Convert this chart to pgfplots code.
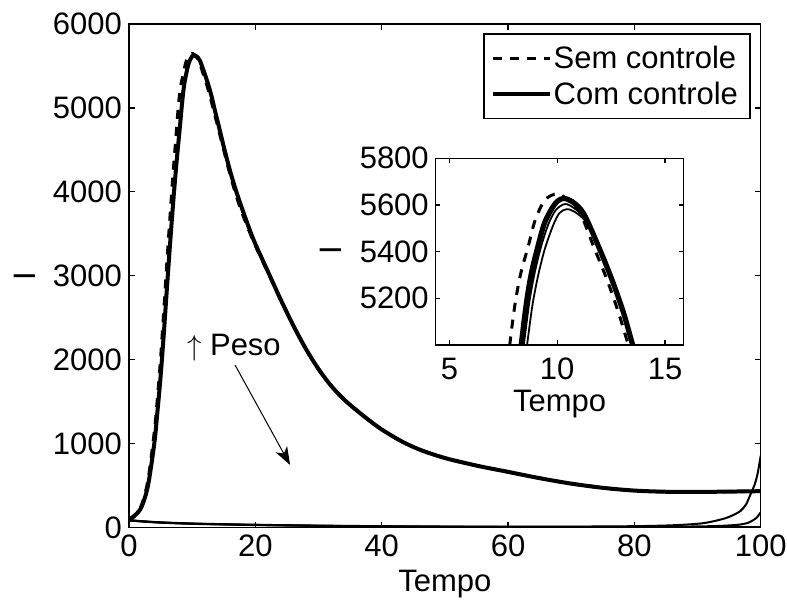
\documentclass[border=0pt]{standalone}
\usepackage{fontspec}
\setmainfont{Liberation Sans}
\usepackage{pgfplots}
\usepackage{pgfplotstable}
\pgfplotsset{compat=1.18}
\usetikzlibrary{arrows.meta}

\pgfplotstableread{
t I
0 92
1 150
2 250
3 500
4 1000
4.5 1380
5 1800
5.5 2300
6 2850
6.5 3380
7 3880
7.5 4330
8 4730
8.33 5000
8.57 5179
8.8 5307
9.1 5421
9.4 5520
9.75 5585
10.0 5615
10.29 5628
10.7 5614
11.22 5564
11.92 5421
12.54 5279
13.08 5136
13.5 5000
14 4850
15 4540
16 4250
17 4000
18 3780
19 3570
20 3380
22 3050
24 2720
26 2410
28 2130
30 1890
32 1690
34 1530
36 1400
38 1280
40 1170
43 1035
46 930
50 830
55 740
60 665
65 590
70 525
75 475
80 442
85 428
90 426
95 430
100 435
}\solid

\pgfplotstableread{
t I
0 92
1 160
2 270
3 560
4 1130
4.5 1530
5 2000
5.5 2560
6 3150
6.5 3700
7 4230
7.5 4710
7.8 5000
8.05 5179
8.31 5307
8.65 5421
8.98 5536
9.37 5614
9.7 5640
10.06 5647
10.5 5622
11.07 5564
11.69 5421
12.31 5279
12.85 5136
13.3 5000
14 4800
15 4500
16 4210
17 3950
18 3730
19 3540
20 3360
22 3040
24 2715
26 2410
28 2130
30 1890
32 1690
34 1530
36 1400
38 1280
40 1170
43 1035
46 930
50 830
55 740
60 665
65 590
70 525
75 475
80 442
85 428
90 426
95 430
100 435
}\dashed

\pgfplotstableread{
t I
8.2 4830
8.45 5000
8.7 5179
8.95 5307
9.25 5421
9.6 5520
9.95 5580
10.37 5604
10.8 5585
11.3 5540
11.95 5415
12.56 5277
13.1 5135
13.52 5000
13.8 4920
}\thinA

\pgfplotstableread{
t I
8.35 4830
8.6 5000
8.85 5170
9.12 5300
9.42 5410
9.8 5510
10.1 5565
10.45 5582
10.85 5568
11.35 5525
11.98 5410
12.58 5274
13.12 5133
13.54 5000
13.8 4930
}\thinB

\pgfplotstableread{
t I
0 90
2 78
5 64
10 50
15 42
20 35
30 25
40 18
50 14
60 12
70 13
80 18
85 26
88 36
90.5 50
92 68
94.2 108
95.5 145
96.8 200
97.7 280
98.4 400
99 505
99.5 640
100 857
}\lowA

\pgfplotstableread{
t I
0 88
2 76
5 62
10 48
15 40
20 33
30 23
40 16
50 12
60 10
70 9
80 10
85 12
90 15
93 20
95 27
96.8 38
98 58
98.4 72
99.3 115
100 183
}\lowB

\pgfplotstableread{
t I
0 86
2 74
5 60
10 46
15 38
20 31
30 21
40 14
50 10
60 8
70 7
80 6
90 5
100 6
}\lowC

\begin{document}
\begin{tikzpicture}
\path[use as bounding box] (-64.5pt,-37.65pt) rectangle (329pt,263.85pt);
\begin{axis}[
  at={(0pt,0pt)}, anchor=south west,
  scale only axis, width=315.85pt, height=251.85pt,
  xmin=0, xmax=100, ymin=0, ymax=6000,
  xtick={0,20,...,100}, ytick={0,1000,...,6000},
  tick align=inside, major tick length=3pt,
  axis line style={line width=0.6pt},
  every tick/.style={line width=0.6pt, black},
  /pgf/number format/assume math mode=true,
  /pgf/number format/set thousands separator={},
  tick label style={font=\fontsize{15.5}{18}\selectfont},
  label style={font=\fontsize{15.5}{18}\selectfont},
  xlabel={Tempo}, ylabel={I},
  xlabel style={at={(axis description cs:0.5,0)}, anchor=base, yshift=-32pt},
  ylabel style={at={(axis description cs:-0.1647,0.5)}, anchor=center},
  legend style={at={(rel axis cs:0.984,0.9815)}, anchor=north east,
    draw=black, line width=0.6pt, fill=white,
    font=\fontsize{15.5}{18}\selectfont,
    inner xsep=3.4pt, inner ysep=3.3pt,
    nodes={inner sep=2.6pt, text depth=0.15em},
    column sep=-1.7pt},
  legend cell align=left,
  legend image code/.code={\draw[#1] (0pt,0pt) -- (28.5pt,0pt);},
]
\addplot[black, line width=1.6pt, dash pattern=on 4.5pt off 4pt, smooth, tension=0.5] table[x=t,y=I] {\dashed};
\addlegendentry{Sem controle}
\addplot[black, line width=2pt, smooth, tension=0.5] table[x=t,y=I] {\solid};
\addlegendentry{Com controle}
\addplot[black, line width=1pt, smooth, tension=0.5, forget plot] table[x=t,y=I] {\lowC};
\addplot[black, line width=1pt, smooth, tension=0.5, forget plot] table[x=t,y=I] {\lowB};
\addplot[black, line width=1pt, smooth, tension=0.5, forget plot] table[x=t,y=I] {\lowA};
\node[anchor=base west, font=\fontsize{15.5}{18}\selectfont, inner sep=0pt] at (axis cs:9.13,2057) {$\uparrow$ Peso};
\draw[line width=0.5pt, -{Stealth[length=9pt,width=6.5pt,inset=2.5pt]}] (axis cs:16.8,1936) -- (axis cs:25.5,747);
\end{axis}

\begin{axis}[
  at={(153.4pt,91.35pt)}, anchor=south west,
  scale only axis, width=123.8pt, height=93.35pt,
  xmin=4.37, xmax=15.85, ymin=5000, ymax=5800,
  xtick={5,10,15}, ytick={5200,5400,5600,5800},
  tick align=inside, major tick length=2.3pt,
  axis background/.style={fill=white},
  axis line style={line width=0.6pt},
  every tick/.style={line width=0.6pt, black},
  /pgf/number format/assume math mode=true,
  /pgf/number format/set thousands separator={},
  tick label style={font=\fontsize{15.5}{18}\selectfont},
  xticklabel style={yshift=-3pt},
  label style={font=\fontsize{15.5}{18}\selectfont},
  xlabel={Tempo}, ylabel={I},
  xlabel style={at={(axis description cs:0.5,0)}, anchor=base, yshift=-33.5pt},
  ylabel style={at={(axis description cs:-0.424,0.505)}, anchor=center},
]
\addplot[black, line width=1.5pt, dash pattern=on 4.5pt off 4pt, smooth, tension=0.5] table[x=t,y=I] {\dashed};
\addplot[black, line width=2.6pt, smooth, tension=0.5] table[x=t,y=I] {\solid};
\addplot[black, line width=0.9pt, smooth, tension=0.5] table[x=t,y=I] {\thinA};
\addplot[black, line width=0.9pt, smooth, tension=0.5] table[x=t,y=I] {\thinB};
\end{axis}
\end{tikzpicture}
\end{document}
